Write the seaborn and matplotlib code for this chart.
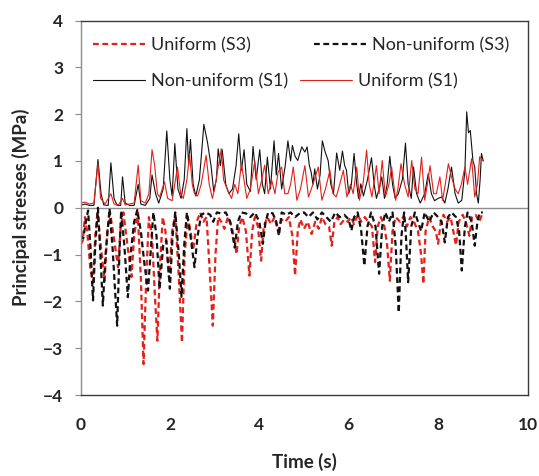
import numpy as np
import pandas as pd
import matplotlib
matplotlib.use("Agg")
import matplotlib.pyplot as plt
import seaborn as sns

# Non-uniform (S1), black solid
t_nu_s1 = [0.0, 0.1, 0.2, 0.3, 0.39, 0.46, 0.52, 0.62, 0.68, 0.75, 0.82, 0.9, 0.94, 1.0,
           1.1, 1.2, 1.29, 1.35, 1.45, 1.55, 1.6, 1.68, 1.75, 1.85, 1.93, 2.0, 2.05, 2.11,
           2.18, 2.25, 2.32, 2.38, 2.42, 2.46, 2.52, 2.58, 2.66, 2.76, 2.84, 2.92, 2.98,
           3.04, 3.08, 3.13, 3.17, 3.25, 3.32, 3.4, 3.48, 3.54, 3.6, 3.66, 3.72, 3.8, 3.86,
           3.93, 4.01, 4.07, 4.12, 4.18, 4.25, 4.33, 4.38, 4.43, 4.5, 4.58, 4.64, 4.7, 4.74,
           4.8, 4.86, 4.95, 5.02, 5.07, 5.12, 5.16, 5.2, 5.24, 5.3, 5.36, 5.41, 5.47, 5.54,
           5.6, 5.66, 5.73, 5.8, 5.86, 5.91, 5.95, 6.0, 6.06, 6.12, 6.18, 6.22, 6.27, 6.33,
           6.42, 6.51, 6.57, 6.62, 6.68, 6.74, 6.8, 6.86, 6.92, 6.98, 7.04, 7.11, 7.2, 7.27,
           7.33, 7.4, 7.45, 7.52, 7.6, 7.7, 7.78, 7.85, 7.92, 8.0, 8.08, 8.15, 8.22, 8.3,
           8.38, 8.45, 8.53, 8.6, 8.64, 8.68, 8.72, 8.78, 8.82, 8.86, 8.9, 8.94, 8.97, 9.01]
v_nu_s1 = [0.05, 0.08, 0.05, 0.05, 1.03, 0.3, 0.06, 0.05, 0.96, 0.2, 0.05, 0.05, 0.66, 0.1,
           0.05, 0.05, 0.5, 0.08, 0.05, 0.2, 0.7, 0.3, 0.1, 0.4, 1.64, 0.6, 0.25, 1.37,
           0.4, 0.2, 0.6, 1.69, 0.9, 1.46, 0.5, 0.25, 0.6, 1.78, 1.4, 0.9, 0.35,
           0.6, 1.26, 0.9, 1.24, 0.5, 0.3, 0.4, 0.9, 1.58, 0.8, 1.24, 0.5, 0.35, 1.31,
           0.6, 1.24, 0.5, 0.3, 1.08, 0.4, 1.43, 0.7, 1.16, 0.4, 0.9, 1.43, 1.0, 1.33,
           1.1, 1.01, 1.3, 1.19, 1.3, 0.9, 0.76, 0.5, 0.83, 0.4, 0.7, 1.43, 1.2, 1.01,
           0.5, 0.3, 1.17, 0.8, 1.21, 0.9, 0.8, 0.3, 0.5, 1.16, 0.5, 0.2, 0.51, 0.25,
           0.6, 1.07, 0.5, 0.2, 0.4, 0.66, 0.2, 0.5, 1.1, 0.5, 0.2, 0.3, 0.6, 1.38,
           0.5, 0.2, 0.87, 0.3, 0.1, 0.3, 0.73, 0.3, 0.15, 0.2, 0.23, 0.1, 0.4, 0.87,
           0.3, 0.1, 0.16, 0.8, 2.05, 1.6, 1.65, 1.0, 0.87, 0.3, 0.1, 0.6, 1.16, 1.0]

# Uniform (S1), red solid
t_u_s1 = [0.0, 0.1, 0.2, 0.3, 0.39, 0.45, 0.55, 0.68, 0.75, 0.85, 0.94, 1.0, 1.1, 1.2, 1.29,
          1.35, 1.45, 1.53, 1.6, 1.66, 1.72, 1.77, 1.88, 1.95, 2.05, 2.17, 2.24, 2.3, 2.38,
          2.44, 2.5, 2.55, 2.62, 2.7, 2.81, 2.88, 2.95, 3.0, 3.08, 3.15, 3.2, 3.3, 3.38,
          3.45, 3.52, 3.6, 3.66, 3.72, 3.8, 3.9, 3.98, 4.05, 4.12, 4.2, 4.28, 4.35, 4.42,
          4.5, 4.57, 4.64, 4.7, 4.76, 4.84, 4.92, 5.02, 5.1, 5.2, 5.32, 5.4, 5.48, 5.58,
          5.65, 5.72, 5.8, 5.88, 5.96, 6.04, 6.1, 6.18, 6.24, 6.32, 6.4, 6.46, 6.52, 6.62,
          6.68, 6.75, 6.82, 6.9, 6.96, 7.05, 7.1, 7.17, 7.25, 7.33, 7.41, 7.48, 7.55, 7.63,
          7.7, 7.76, 7.82, 7.9, 7.96, 8.04, 8.1, 8.16, 8.23, 8.3, 8.38, 8.45, 8.52, 8.6,
          8.66, 8.75, 8.82, 8.88, 8.93, 9.01]
v_u_s1 = [0.1, 0.12, 0.08, 0.1, 0.94, 0.2, 0.08, 0.3, 0.08, 0.06, 0.2, 0.06, 0.08, 0.1, 0.91,
          0.15, 0.1, 0.3, 1.24, 0.9, 0.3, 0.23, 0.55, 0.2, 0.15, 0.87, 0.3, 0.2, 0.6,
          1.15, 0.5, 0.3, 0.25, 0.5, 1.12, 0.5, 0.2, 0.4, 0.87, 1.26, 0.6, 0.35, 0.2,
          0.5, 0.3, 0.94, 0.58, 0.2, 0.4, 1.0, 0.3, 0.58, 0.91, 0.3, 0.58, 0.3, 0.76,
          0.87, 0.3, 0.3, 0.5, 0.87, 0.16, 0.4, 0.9, 0.23, 0.5, 0.87, 0.16, 0.4, 0.8,
          0.3, 0.23, 0.5, 0.8, 0.23, 0.5, 0.3, 0.87, 0.16, 0.5, 1.23, 0.5, 0.23, 0.9,
          0.3, 1.01, 0.23, 0.5, 0.87, 0.16, 0.4, 0.94, 0.5, 0.23, 1.01, 0.4, 0.3, 1.08,
          0.16, 0.5, 0.9, 0.3, 0.3, 0.66, 0.16, 0.5, 0.94, 0.66, 0.4, 0.3, 0.5, 0.87,
          0.5, 1.05, 0.23, 0.5, 1.09, 1.0]

# Non-uniform (S3), black dashed
t_nu_s3 = [0.0, 0.06, 0.12, 0.17, 0.22, 0.28, 0.33, 0.39, 0.44, 0.5, 0.56, 0.65, 0.72, 0.82,
           0.87, 0.91, 0.98, 1.06, 1.12, 1.2, 1.27, 1.35, 1.43, 1.51, 1.58, 1.63, 1.7, 1.77,
           1.85, 1.92, 2.0, 2.06, 2.12, 2.2, 2.26, 2.32, 2.38, 2.46, 2.55, 2.62, 2.7, 2.8,
           2.9, 2.97, 3.05, 3.15, 3.25, 3.35, 3.45, 3.52, 3.6, 3.7, 3.8, 3.9, 4.0, 4.08,
           4.14, 4.2, 4.3, 4.38, 4.44, 4.5, 4.6, 4.7, 4.8, 4.9, 5.0, 5.1, 5.2, 5.3, 5.4,
           5.5, 5.6, 5.7, 5.8, 5.9, 6.0, 6.06, 6.12, 6.2, 6.28, 6.35, 6.42, 6.5, 6.6, 6.68,
           6.75, 6.82, 6.9, 6.98, 7.05, 7.12, 7.18, 7.24, 7.28, 7.33, 7.4, 7.48, 7.55, 7.62,
           7.7, 7.8, 7.9, 8.0, 8.08, 8.15, 8.22, 8.3, 8.4, 8.47, 8.53, 8.6, 8.66, 8.75, 8.82,
           8.88, 8.93, 9.0]
v_nu_s3 = [-0.6, -0.66, -0.3, -0.06, -0.8, -1.98, -0.8, 0.0, -0.9, -2.09, -1.0, -0.02, -0.9, -2.52,
           -1.0, -0.06, -0.8, -1.91, -1.0, -0.3, -0.05, -0.5, -1.2, -1.77, -0.8, -0.1, -0.6, -1.73,
           -0.8, -0.7, -1.73, -0.6, -0.1, -1.0, -1.9, -0.8, -0.1, -0.6, -1.27, -0.6, -0.15, -0.1,
           -0.15, -0.3, -0.1, -0.12, -0.1, -0.3, -0.85, -0.3, -0.1, -0.12, -0.2, -0.1, -0.3, -0.77,
           -0.3, -0.1, -0.12, -0.3, -0.6, -0.1, -0.15, -0.1, -0.2, -0.12, -0.1, -0.2, -0.1, -0.25, -0.1,
           -0.2, -0.3, -0.1, -0.2, -0.15, -0.25, -0.49, -0.2, -0.1, -0.5, -1.24, -0.4, -0.1, -0.4, -1.41,
           -0.4, -0.1, -0.3, -0.1, -0.8, -2.24, -0.6, -0.1, -0.6, -1.59, -0.4, -0.1, -0.3, -0.5,
           -0.1, -0.3, -0.1, -0.2, -0.3, -0.74, -0.2, -0.1, -0.2, -0.5, -1.34, -0.4, -0.1, -0.3, -0.81,
           -0.3, -0.1, -0.1]

# Uniform (S3), red dashed
t_u_s3 = [0.0, 0.05, 0.1, 0.15, 0.22, 0.28, 0.33, 0.38, 0.44, 0.54, 0.6, 0.66, 0.74, 0.84, 0.9,
          0.96, 1.05, 1.14, 1.2, 1.28, 1.35, 1.41, 1.47, 1.53, 1.6, 1.66, 1.72, 1.78, 1.84,
          1.9, 1.98, 2.05, 2.12, 2.2, 2.27, 2.33, 2.4, 2.46, 2.52, 2.6, 2.68, 2.75, 2.82,
          2.9, 2.96, 3.02, 3.08, 3.15, 3.22, 3.3, 3.38, 3.45, 3.49, 3.55, 3.62, 3.7, 3.78,
          3.84, 3.9, 3.97, 4.04, 4.1, 4.18, 4.26, 4.34, 4.42, 4.5, 4.58, 4.66, 4.74, 4.8,
          4.86, 4.92, 5.0, 5.08, 5.17, 5.25, 5.33, 5.4, 5.48, 5.56, 5.62, 5.68, 5.75, 5.82,
          5.9, 5.98, 6.05, 6.12, 6.2, 6.28, 6.36, 6.44, 6.52, 6.59, 6.65, 6.72, 6.8, 6.86,
          6.92, 6.98, 7.05, 7.15, 7.22, 7.3, 7.38, 7.46, 7.55, 7.62, 7.67, 7.72, 7.8, 7.88,
          7.95, 8.0, 8.06, 8.12, 8.2, 8.28, 8.34, 8.4, 8.46, 8.55, 8.62, 8.7, 8.76, 8.84,
          8.92, 9.0]
v_u_s3 = [-0.8, -0.7, -0.2, -0.5, -1.3, -1.6, -0.6, -0.1, -0.7, -1.56, -0.5, -0.1, -0.6, -1.27, -0.4,
          -0.1, -0.8, -1.48, -0.6, -0.1, -1.5, -3.34, -1.5, -0.2, -0.6, -1.8, -2.84, -1.2, -0.2,
          -0.5, -1.5, -0.5, -0.15, -1.5, -2.88, -1.0, -0.2, -0.5, -0.9, -0.3, -0.1, -0.3, -0.2,
          -1.5, -2.52, -1.0, -0.2, -0.3, -0.45, -0.2, -0.4, -0.7, -0.99, -0.4, -0.2, -0.5, -1.45,
          -0.5, -0.2, -0.4, -1.13, -0.4, -0.2, -0.35, -0.2, -0.5, -0.25, -0.3, -0.2, -0.6, -1.45,
          -0.5, -0.25, -0.45, -0.3, -0.56, -0.3, -0.45, -0.2, -0.35, -0.4, -0.81, -0.3, -0.2, -0.35,
          -0.25, -0.3, -0.2, -0.35, -0.15, -0.3, -0.2, -0.3, -0.4, -1.16, -0.4, -0.2, -0.4, -0.8,
          -1.56, -0.5, -0.2, -0.3, -0.2, -0.4, -0.2, -0.3, -0.5, -1.0, -1.63, -0.5, -0.2, -0.4,
          -0.5, -0.77, -0.3, -0.15, -0.3, -0.2, -0.5, -0.8, -0.3, -0.15, -0.3, -0.6, -0.2, -0.15,
          -0.3, -0.1]

x_ticks = [0, 2, 4, 6, 8, 10]
y_ticks = [-4, -3, -2, -1, 0, 1, 2, 3, 4]

RED = "#e3201b"
BLACK = "#111111"

sns.set_theme(style="white")
plt.rcParams["font.family"] = ["Lato", "DejaVu Sans"]

fig = plt.figure(figsize=(5.39, 4.76), dpi=100)
ax = fig.add_axes([80.5 / 539, 1 - 395 / 476, 447 / 539, 374.5 / 476])

series = [
    ("Uniform (S3)", t_u_s3, v_u_s3, RED, (0, (2.6, 1.6)), 1.6),
    ("Non-uniform (S3)", t_nu_s3, v_nu_s3, BLACK, (0, (2.6, 1.6)), 1.6),
    ("Non-uniform (S1)", t_nu_s1, v_nu_s1, BLACK, "-", 0.8),
    ("Uniform (S1)", t_u_s1, v_u_s1, RED, "-", 0.8),
]
handles = {}
for name, t, v, col, ls, lw in series:
    df = pd.DataFrame({"t": t, "v": v})
    sns.lineplot(data=df, x="t", y="v", ax=ax, color=col, linestyle=ls,
                 linewidth=lw, sort=False, estimator=None, legend=False)
    handles[name] = ax.get_lines()[-1]

ax.axhline(0, color="#8c8c8c", linewidth=1.0, zorder=0.5)

ax.set_xlim(0, 10)
ax.set_ylim(-4, 4)
ax.set_xticks(x_ticks)
ax.set_yticks(y_ticks)
ax.tick_params(axis="x", length=0, pad=16, labelsize=12.5)
ax.tick_params(axis="y", length=4.5, width=0.8, color="#8c8c8c", pad=8,
               labelsize=12.5, left=True)
for lab in ax.get_xticklabels() + ax.get_yticklabels():
    lab.set_fontweight("bold")

for side in ["top", "right", "bottom"]:
    ax.spines[side].set_color("#3a3a3a")
    ax.spines[side].set_linewidth(1.0)
ax.spines["left"].set_color("#8c8c8c")
ax.spines["left"].set_linewidth(1.0)

ax.set_xlabel("Time (s)", fontsize=13.5, fontweight="bold", labelpad=14)
ax.set_ylabel("Principal stresses (MPa)", fontsize=13.5, fontweight="bold", labelpad=9)

# legend entries placed one by one, like the original's flowing legend
legend_pos = [("Uniform (S3)", 93, 45), ("Non-uniform (S3)", 314, 45),
              ("Non-uniform (S1)", 93, 81), ("Uniform (S1)", 300, 81)]
for name, px, py in legend_pos:
    fig.legend([handles[name]], [name], loc="center left",
               bbox_to_anchor=(px / 539, 1 - py / 476), frameon=False,
               borderpad=0, borderaxespad=0, handlelength=2.9,
               handletextpad=0.3, fontsize=13)

fig.savefig("out.png", dpi=100)
